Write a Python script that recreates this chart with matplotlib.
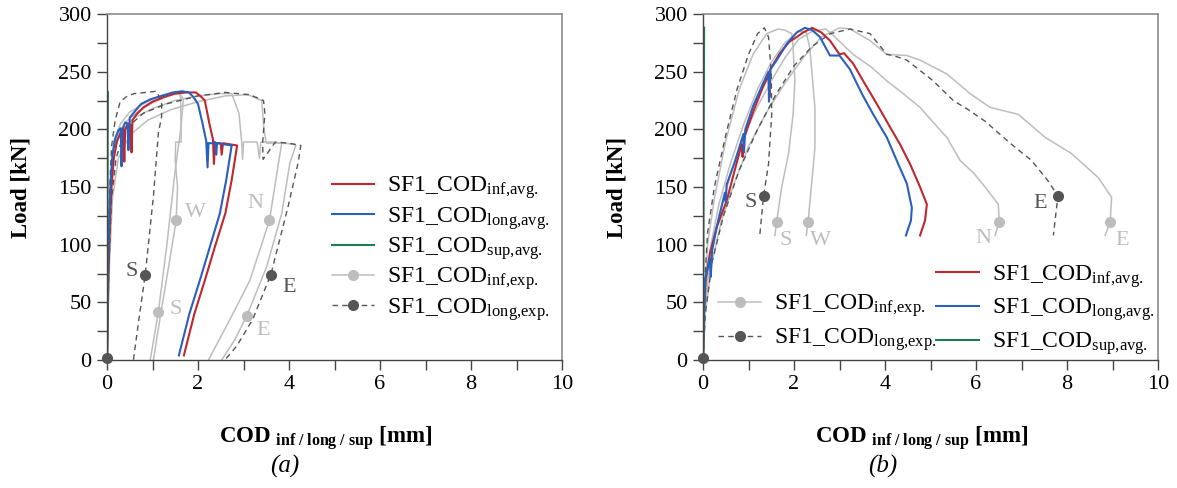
import matplotlib
matplotlib.use("Agg")
import matplotlib.pyplot as plt
from matplotlib.lines import Line2D
from matplotlib.ticker import MultipleLocator

# ------------------------------
# fonts
# ------------------------------
plt.rcParams['font.family'] = ['Liberation Serif', 'DejaVu Serif']
plt.rcParams['mathtext.fontset'] = 'custom'
plt.rcParams['mathtext.rm'] = 'Liberation Serif'
plt.rcParams['mathtext.it'] = 'Liberation Serif:italic'
plt.rcParams['mathtext.bf'] = 'Liberation Serif:bold'

# ------------------------------
# data (a)  COD [mm] / Load [kN]
# ------------------------------
a_inf_avg_x = [0.00, 0.03, 0.06, 0.10, 0.15, 0.22, 0.30, 0.36, 0.38, 0.40, 0.46, 0.52, 0.54, 0.56, 0.65,
               0.80, 1.00, 1.25, 1.50, 1.75, 1.95, 2.05, 2.15, 2.25, 2.33, 2.35, 2.37, 2.36, 2.40, 2.50,
               2.52, 2.55, 2.70, 2.86, 2.74, 2.60, 2.37, 2.15, 1.92, 1.69]
a_inf_avg_y = [0, 70, 115, 150, 175, 190, 197, 200, 172, 200, 205, 204, 180, 208, 213,
               219, 224, 228, 231, 232, 232, 229, 225, 205, 191, 170, 188, 189, 188, 188,
               178, 188, 187, 186, 156, 127, 98, 69, 40, 4]
a_long_avg_x = [0.00, 0.02, 0.05, 0.08, 0.12, 0.18, 0.25, 0.30, 0.32, 0.34, 0.40, 0.45, 0.47, 0.50, 0.60,
                0.75, 0.95, 1.20, 1.45, 1.65, 1.80, 1.90, 2.00, 2.10, 2.18, 2.21, 2.23, 2.22, 2.28, 2.38,
                2.40, 2.42, 2.58, 2.74, 2.62, 2.48, 2.26, 2.04, 1.81, 1.58]
a_long_avg_y = [0, 75, 120, 155, 178, 192, 199, 201, 168, 200, 206, 205, 182, 210, 215,
                222, 226, 229, 232, 233, 232, 228, 222, 205, 190, 167, 187, 188, 188, 188,
                178, 188, 187, 186, 156, 127, 98, 69, 40, 4]
a_sup_avg_x = [0.00, 0.005, 0.01, 0.015]
a_sup_avg_y = [0, 100, 200, 232]

a_S_inf_x = [0.00, 0.03, 0.08, 0.15, 0.30, 0.50, 0.80, 1.10, 1.40, 1.60, 1.68, 1.62, 1.50, 1.31, 1.13, 0.95]
a_S_inf_y = [0, 100, 160, 190, 205, 215, 222, 228, 231, 231, 226, 200, 165, 98, 42, 0]
a_W_inf_x = [0.00, 0.04, 0.10, 0.20, 0.40, 0.70, 1.00, 1.30, 1.50, 1.60, 1.62, 1.63, 1.51, 1.50, 1.55, 1.52, 1.35, 1.18, 1.02]
a_W_inf_y = [0, 110, 165, 192, 206, 216, 223, 228, 231, 231, 226, 189, 189, 173, 150, 121, 80, 40, 0]
a_N_inf_x = [0.00, 0.03, 0.08, 0.15, 0.30, 0.60, 1.00, 1.50, 2.00, 2.50, 2.74, 2.90, 2.96, 2.98, 3.00,
             3.30, 3.35, 3.38, 3.60, 3.84, 3.77, 3.57, 3.14, 2.70, 2.23]
a_N_inf_y = [0, 90, 150, 180, 198, 210, 218, 225, 229, 231, 231, 214, 189, 174, 189,
             189, 175, 189, 189, 188, 171, 121, 69, 35, 0]
a_E_inf_x = [0.00, 0.05, 0.12, 0.25, 0.50, 0.90, 1.40, 2.00, 2.60, 3.10, 3.40, 3.45, 3.50, 3.90, 4.10,
             4.15, 4.02, 3.84, 3.51, 3.07, 2.80, 2.52]
a_E_inf_y = [0, 80, 140, 175, 195, 208, 217, 224, 229, 230, 225, 200, 188, 188, 187,
             186, 171, 127, 81, 38, 17, 0]
a_S_long_x = [0.00, 0.03, 0.06, 0.10, 0.18, 0.29, 0.45, 0.60, 0.85, 1.08, 1.20, 1.20, 1.13, 1.02, 0.84, 0.70, 0.58]
a_S_long_y = [0, 100, 150, 185, 208, 224, 229, 231, 232, 233, 225, 211, 197, 142, 74, 35, 0]
a_E_long_x = [0.00, 0.04, 0.10, 0.20, 0.40, 0.80, 1.30, 2.00, 2.60, 3.14, 3.44, 3.47, 3.42, 3.43, 3.70,
              4.00, 4.26, 4.20, 3.98, 3.60, 3.20, 2.85, 2.59]
a_E_long_y = [0, 80, 140, 175, 200, 214, 222, 229, 232, 230, 225, 214, 188, 174, 189,
              188, 186, 171, 133, 74, 35, 12, 0]

# marker points (COD, Load) picked on the experimental curves
a_inf_mark_x = [1.13, 1.52, 3.57, 3.07]
a_inf_mark_y = [42, 121, 121, 38]
a_inf_mark_lbl = ['S', 'W', 'N', 'E']
a_long_mark_x = [0.84, 3.60]
a_long_mark_y = [74, 74]
a_long_mark_lbl = ['S', 'E']

# ------------------------------
# data (b)
# ------------------------------
b_inf_avg_x = [0.00, 0.02, 0.06, 0.15, 0.30, 0.52, 0.70, 0.85, 0.87, 0.90, 1.10, 1.30, 1.44, 1.46, 1.48,
               1.69, 1.90, 2.06, 2.20, 2.40, 2.60, 2.79, 3.00, 3.10, 3.30, 3.52, 3.82, 4.11, 4.33, 4.55,
               4.77, 4.92, 4.88, 4.77]
b_inf_avg_y = [0, 40, 70, 92, 115, 138, 165, 187, 176, 192, 215, 235, 247, 228, 252,
               266, 276, 280, 284, 288, 284, 277, 265, 266, 257, 242, 222, 202, 187, 170,
               150, 135, 121, 108]
b_long_avg_x = [0.00, 0.02, 0.05, 0.15, 0.17, 0.20, 0.30, 0.48, 0.50, 0.52, 0.70, 0.89, 0.90, 0.93, 1.10,
                1.30, 1.44, 1.45, 1.48, 1.62, 1.84, 2.06, 2.24, 2.40, 2.57, 2.79, 3.00, 3.23, 3.49, 3.74,
                4.04, 4.29, 4.48, 4.59, 4.57, 4.46]
b_long_avg_y = [0, 40, 70, 88, 72, 95, 115, 145, 137, 152, 172, 196, 180, 200, 220,
                238, 250, 224, 252, 260, 274, 284, 288, 286, 280, 264, 264, 252, 231, 213,
                193, 170, 153, 132, 121, 108]
b_sup_avg_x = [0.00, 0.005, 0.01, 0.02]
b_sup_avg_y = [0, 100, 200, 288]

b_S_inf_x = [0.00, 0.03, 0.10, 0.25, 0.50, 0.80, 1.10, 1.40, 1.65, 1.80, 1.95, 1.98, 2.02, 1.98, 1.88, 1.73, 1.62, 1.58]
b_S_inf_y = [0, 50, 100, 140, 190, 235, 265, 283, 287, 286, 283, 271, 242, 213, 179, 150, 120, 108]
b_W_inf_x = [0.00, 0.05, 0.15, 0.35, 0.60, 0.90, 1.20, 1.50, 1.80, 2.10, 2.27, 2.35, 2.39, 2.46, 2.46, 2.31, 2.27]
b_W_inf_y = [0, 50, 95, 135, 170, 205, 235, 258, 275, 285, 284, 270, 251, 219, 184, 120, 108]
b_N_inf_x = [0.00, 0.05, 0.15, 0.35, 0.60, 0.90, 1.20, 1.50, 1.80, 2.10, 2.40, 2.70, 2.90, 3.30, 3.70,
             4.04, 4.40, 4.77, 5.06, 5.36, 5.65, 5.95, 6.20, 6.49, 6.51, 6.42]
b_N_inf_y = [0, 45, 85, 125, 160, 195, 220, 242, 262, 278, 285, 287, 280, 265, 254,
             242, 231, 219, 206, 193, 173, 162, 150, 135, 120, 108]
b_E_inf_x = [0.00, 0.05, 0.20, 0.40, 0.70, 1.00, 1.40, 1.80, 2.20, 2.60, 3.00, 3.23, 3.67, 4.04, 4.48,
             4.77, 5.36, 5.87, 6.31, 6.93, 7.52, 8.10, 8.69, 8.98, 8.95, 8.84]
b_E_inf_y = [0, 40, 85, 120, 155, 185, 215, 240, 262, 280, 288, 287, 277, 265, 264,
             260, 248, 231, 219, 213, 193, 179, 158, 141, 120, 108]
b_S_long_x = [0.00, 0.03, 0.10, 0.25, 0.50, 0.75, 1.00, 1.20, 1.35, 1.44, 1.50, 1.51, 1.44, 1.33, 1.25]
b_S_long_y = [0, 60, 110, 150, 195, 235, 265, 283, 288, 280, 250, 213, 170, 142, 109]
b_E_long_x = [0.00, 0.05, 0.20, 0.45, 0.80, 1.20, 1.60, 2.00, 2.40, 2.80, 3.23, 3.67, 4.04, 4.18, 4.48,
              5.06, 5.50, 5.87, 6.20, 6.78, 7.22, 7.59, 7.80, 7.75, 7.70]
b_E_long_y = [0, 40, 85, 125, 165, 200, 230, 255, 272, 283, 287, 283, 265, 264, 260,
              242, 225, 216, 207, 187, 173, 155, 142, 125, 108]

b_inf_mark_x = [1.62, 2.31, 6.51, 8.95]
b_inf_mark_y = [120, 120, 120, 120]
b_inf_mark_lbl = ['S', 'W', 'N', 'E']
b_long_mark_x = [1.33, 7.80]
b_long_mark_y = [142, 142]
b_long_mark_lbl = ['S', 'E']

# ------------------------------
# styles
# ------------------------------
RED = '#c0272d'
BLUE = '#2b5fbd'
GREEN = '#1b7f4f'
LGRAY = '#bdbdbd'
DGRAY = '#555555'
DASH = (0, (4, 3))

# label offsets in pixels for the S/W/N/E tags
a_inf_off = [(17, 2), (19, 8), (-14, 17), (17, -14)]
a_long_off = [(-14, 3), (18, -13)]
b_inf_off = [(9, -19), (12, -19), (-16, -17), (12, -19)]
b_long_off = [(-13, -6), (-18, -7)]

lbl_inf = r'SF1_COD$_{\mathrm{inf{,}exp.}}$'
lbl_long = r'SF1_COD$_{\mathrm{long{,}exp.}}$'
lbl_iavg = r'SF1_COD$_{\mathrm{inf{,}avg.}}$'
lbl_lavg = r'SF1_COD$_{\mathrm{long{,}avg.}}$'
lbl_savg = r'SF1_COD$_{\mathrm{sup{,}avg.}}$'


def setup_axes(ax):
    ax.set_xlim(0, 10)
    ax.set_ylim(0, 300)
    ax.xaxis.set_major_locator(MultipleLocator(2))
    ax.xaxis.set_minor_locator(MultipleLocator(1))
    ax.yaxis.set_major_locator(MultipleLocator(50))
    ax.yaxis.set_minor_locator(MultipleLocator(25))
    ax.tick_params(which='both', direction='out', length=7, width=1, color='#444444')
    ax.tick_params(which='major', labelsize=16, pad=4)
    for s in ['left', 'bottom']:
        ax.spines[s].set_color('#444444')
        ax.spines[s].set_linewidth(1.0)
    for s in ['top', 'right']:
        ax.spines[s].set_color('#8c8c8c')
        ax.spines[s].set_linewidth(1.2)
    ax.set_ylabel('Load [kN]', fontsize=16.5, fontweight='bold')
    ax.yaxis.set_label_coords(-0.165, 0.5)
    ax.set_xlabel(r'COD $_{\mathbf{inf\ /\ long\ /\ sup}}$ [mm]', fontsize=16.5, fontweight='bold')
    ax.xaxis.set_label_coords(0.48, -0.185)


def draw_tags(ax, xs, ys, tags, offs, color):
    ax.plot(xs, ys, 'o', color=color, ms=7, zorder=5)
    for x, y, t, o in zip(xs, ys, tags, offs):
        ax.annotate(t, (x, y), xytext=o, textcoords='offset pixels', ha='center', va='center',
                    fontsize=16, color=color, zorder=6)


fig = plt.figure(figsize=(11.77, 4.88), dpi=100)
ax1 = fig.add_axes([107 / 1177, 1 - 360 / 488, 455 / 1177, 346 / 488])
ax2 = fig.add_axes([703 / 1177, 1 - 360 / 488, 455 / 1177, 346 / 488])

# ------------------------------
# panel (a)
# ------------------------------
for xs, ys in [(a_S_inf_x, a_S_inf_y), (a_W_inf_x, a_W_inf_y), (a_N_inf_x, a_N_inf_y), (a_E_inf_x, a_E_inf_y)]:
    ax1.plot(xs, ys, color=LGRAY, lw=1.1)
for xs, ys in [(a_S_long_x, a_S_long_y), (a_E_long_x, a_E_long_y)]:
    ax1.plot(xs, ys, color=DGRAY, lw=1.0, ls=DASH)
draw_tags(ax1, a_inf_mark_x, a_inf_mark_y, a_inf_mark_lbl, a_inf_off, LGRAY)
draw_tags(ax1, a_long_mark_x, a_long_mark_y, a_long_mark_lbl, a_long_off, DGRAY)
ax1.plot(a_inf_avg_x, a_inf_avg_y, color=RED, lw=1.5)
ax1.plot(a_long_avg_x, a_long_avg_y, color=BLUE, lw=1.5)
ax1.plot(a_sup_avg_x, a_sup_avg_y, color=GREEN, lw=1.8)
ax1.plot([0], [2], 'o', color=DGRAY, ms=7, clip_on=False, zorder=6)
setup_axes(ax1)

h_iavg = Line2D([], [], color=RED, lw=1.5)
h_lavg = Line2D([], [], color=BLUE, lw=1.5)
h_savg = Line2D([], [], color=GREEN, lw=1.5)
h_inf = Line2D([], [], color=LGRAY, lw=1.1, marker='o', ms=7)
h_long = Line2D([], [], color=DGRAY, lw=1.0, ls=DASH, marker='o', ms=7)

ax1.legend([h_iavg, h_lavg, h_savg, h_inf, h_long], [lbl_iavg, lbl_lavg, lbl_savg, lbl_inf, lbl_long],
           loc='upper left', bbox_to_anchor=(0.468, 0.57), frameon=False, fontsize=17,
           handlelength=1.8, handletextpad=0.55, labelspacing=0.15, borderpad=0, numpoints=1)

# ------------------------------
# panel (b)
# ------------------------------
for xs, ys in [(b_S_inf_x, b_S_inf_y), (b_W_inf_x, b_W_inf_y), (b_N_inf_x, b_N_inf_y), (b_E_inf_x, b_E_inf_y)]:
    ax2.plot(xs, ys, color=LGRAY, lw=1.1)
for xs, ys in [(b_S_long_x, b_S_long_y), (b_E_long_x, b_E_long_y)]:
    ax2.plot(xs, ys, color=DGRAY, lw=1.0, ls=DASH)
draw_tags(ax2, b_inf_mark_x, b_inf_mark_y, b_inf_mark_lbl, b_inf_off, LGRAY)
draw_tags(ax2, b_long_mark_x, b_long_mark_y, b_long_mark_lbl, b_long_off, DGRAY)
ax2.plot(b_inf_avg_x, b_inf_avg_y, color=RED, lw=1.5)
ax2.plot(b_long_avg_x, b_long_avg_y, color=BLUE, lw=1.5)
ax2.plot(b_sup_avg_x, b_sup_avg_y, color=GREEN, lw=1.8)
ax2.plot([0], [2], 'o', color=DGRAY, ms=7, clip_on=False, zorder=6)
setup_axes(ax2)

blank = Line2D([], [], color='none')
ax2.legend([blank, h_inf, h_long, h_iavg, h_lavg, h_savg],
           ['', lbl_inf, lbl_long, lbl_iavg, lbl_lavg, lbl_savg], ncol=2,
           loc='upper left', bbox_to_anchor=(0.008, 0.315), frameon=False, fontsize=17,
           handlelength=1.8, handletextpad=0.55, labelspacing=0.3, borderpad=0,
           columnspacing=0.0, numpoints=1)

fig.text(285 / 1177, 1 - 466 / 488, '(a)', ha='center', va='center', fontsize=18, style='italic')
fig.text(883 / 1177, 1 - 466 / 488, '(b)', ha='center', va='center', fontsize=18, style='italic')

fig.savefig('out.png', dpi=100)
